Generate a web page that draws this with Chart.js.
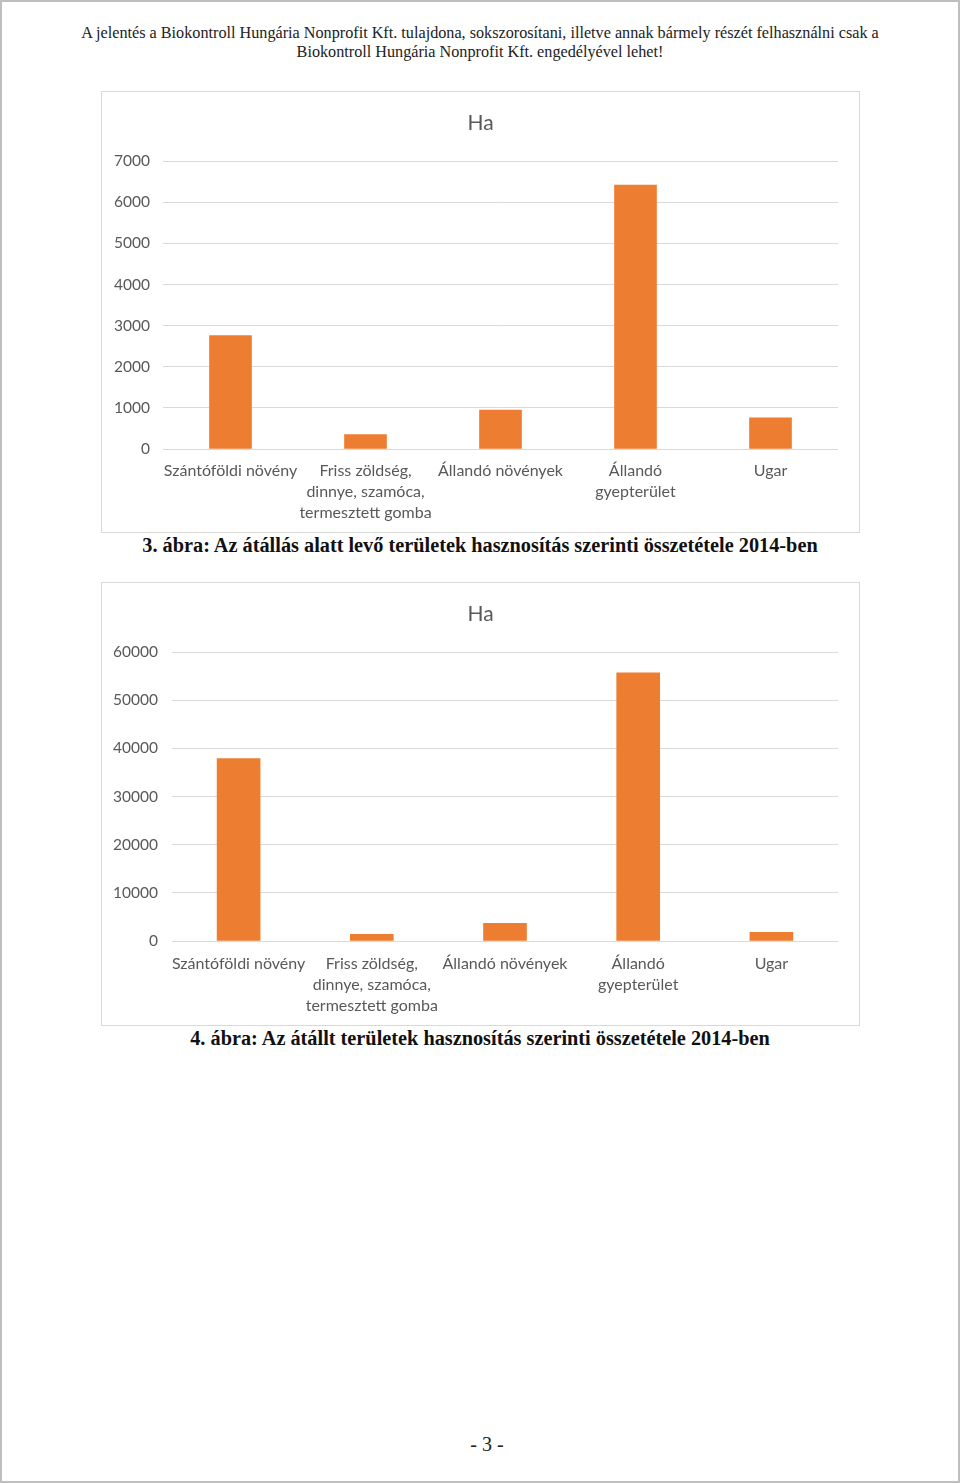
<!DOCTYPE html>
<html>
<head>
<meta charset="utf-8">
<script src="https://cdn.jsdelivr.net/npm/chart.js@4"></script>
<style>
  body { margin: 0; background: #fff; }
  #page { position: absolute; left: 0; top: 0; width: 956px; height: 1479px; border: 2px solid #bfbfbf; }
  .hdr { position: absolute; left: 0; width: 960px; text-align: center; font-family: "Liberation Serif", serif; font-size: 16.2px; line-height: 19px; color: #222; }
  .cap { position: absolute; left: 0; width: 960px; text-align: center; font-family: "Liberation Serif", serif; font-weight: bold; font-size: 20.3px; line-height: 23px; color: #111; }
  .box { position: absolute; left: 101px; width: 757px; border: 1px solid #d9d9d9; }
  .box canvas { position: absolute; left: 0; top: 0; }
</style>
</head>
<body>
<div id="page"></div>
<div class="hdr" style="top:24px">A jelentés a Biokontroll Hungária Nonprofit Kft. tulajdona, sokszorosítani, illetve annak bármely részét felhasználni csak a</div>
<div class="hdr" style="top:43px">Biokontroll Hungária Nonprofit Kft. engedélyével lehet!</div>

<div class="box" style="top:91px;height:440px"><canvas id="chart1" width="757" height="440"></canvas></div>
<div class="cap" style="top:534px">3. ábra: Az átállás alatt levő területek hasznosítás szerinti összetétele 2014-ben</div>

<div class="box" style="top:582px;height:442px"><canvas id="chart2" width="757" height="442"></canvas></div>
<div class="cap" style="top:1027px">4. ábra: Az átállt területek hasznosítás szerinti összetétele 2014-ben</div>

<div class="hdr" style="top:1433px;left:7px;font-size:20px;line-height:22px">- 3 -</div>

<script>
// categories (multi-line labels, as in the Excel chart)
var categories = [
  ["Szántóföldi növény"],
  ["Friss zöldség,", "dinnye, szamóca,", "termesztett gomba"],
  ["Állandó növények"],
  ["Állandó", "gyepterület"],
  ["Ugar"]
];

// 3. ábra - átállás alatt (ha)
var atallasAlatt = [2760, 350, 945, 6420, 760];
// 4. ábra - átállt (ha)
var atallt = [37900, 1390, 3660, 55700, 1800];

// y axis ticks
var yTicks1 = [0, 1000, 2000, 3000, 4000, 5000, 6000, 7000];
var yTicks2 = [0, 10000, 20000, 30000, 40000, 50000, 60000];

var textColor = "#595959";
var gridColor = "#d9d9d9";
var barColor = "#ED7D31";

function makeChart(id, values, ticks, yWidth, yPad, xHeight, xPad, barW) {
  var ctx = document.getElementById(id).getContext("2d");
  return new Chart(ctx, {
    type: "bar",
    data: {
      labels: categories,
      datasets: [{
        label: "Ha",
        data: values,
        backgroundColor: barColor,
        barThickness: barW
      }]
    },
    options: {
      responsive: false,
      animation: false,
      layout: { padding: 0 },
      plugins: {
        legend: { display: false },
        tooltip: { enabled: false },
        title: {
          display: true,
          text: "Ha",
          color: textColor,
          font: { family: "Lato", size: 21, weight: "normal" },
          padding: { top: 19, bottom: 25 }
        }
      },
      scales: {
        x: {
          grid: { display: false },
          border: { display: false },
          ticks: {
            color: textColor,
            font: { family: "Lato", size: 16, lineHeight: 1.32 },
            padding: xPad,
            autoSkip: false,
            maxRotation: 0
          },
          afterFit: function (scale) { scale.height = xHeight; }
        },
        y: {
          min: ticks[0],
          max: ticks[ticks.length - 1],
          afterBuildTicks: function (scale) {
            scale.ticks = ticks.map(function (v) { return { value: v }; });
          },
          grid: { color: gridColor, lineWidth: 1, drawTicks: false },
          border: { display: false },
          ticks: {
            color: textColor,
            font: { family: "Lato", size: 15.5 },
            padding: yPad,
            callback: function (v) { return String(v); }
          },
          afterFit: function (scale) { scale.width = yWidth; }
        },
        // empty right margin so the title stays centred on the whole box
        yRight: {
          position: "right",
          grid: { display: false },
          border: { display: false },
          ticks: { display: false },
          afterFit: function (scale) { scale.width = 21; }
        }
      }
    }
  });
}

makeChart("chart1", atallasAlatt, yTicks1, 61, 13, 83, 3, 42);
makeChart("chart2", atallt, yTicks2, 70, 14, 84, 4, 43);
</script>
</body>
</html>
